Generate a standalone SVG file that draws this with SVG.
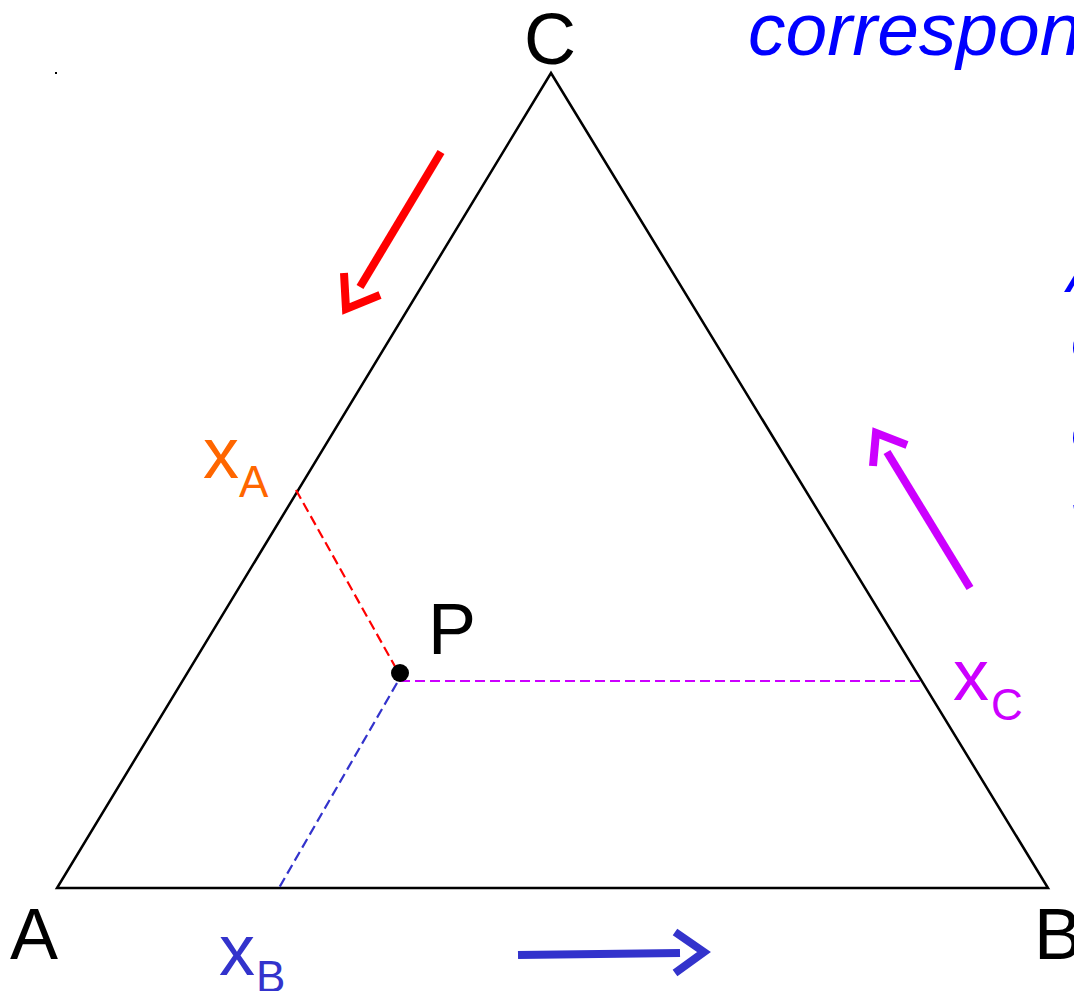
<svg xmlns="http://www.w3.org/2000/svg" width="1074" height="991" viewBox="0 0 1074 991">
<style>
.lbl{font-family:"Liberation Sans",Arial,sans-serif;font-size:72px;fill:#000}
.sub{font-family:"Liberation Sans",Arial,sans-serif;font-size:44px}
.it{font-family:"Liberation Sans",Arial,sans-serif;font-style:italic;fill:#0000FF}
.dash{stroke-width:2.2;stroke-dasharray:10,5;fill:none}
.arr{stroke-width:8;fill:none}
</style>
<rect width="1074" height="991" fill="#fff"/>
<g id="triangle">
<polygon points="57,888 1048,888 551,73" fill="none" stroke="#000" stroke-width="2.5"/>
</g>
<g id="connectors">
<line class="dash" x1="296" y1="490" x2="397" y2="670" stroke="#FF0000"/>
<line class="dash" x1="400" y1="681" x2="921" y2="681" stroke="#CC00FF"/>
<line class="dash" x1="397" y1="683" x2="279" y2="888" stroke="#3333CC"/>
<g id="arrow-red" stroke="#FF0000">
<line class="arr" x1="441" y1="152" x2="360" y2="287"/>
<polyline class="arr" points="344,273 346,309 380,295"/>
</g>
<g id="arrow-magenta" stroke="#CC00FF">
<line class="arr" x1="970" y1="588" x2="887" y2="452"/>
<polyline class="arr" points="873,466 876,433 907,445"/>
</g>
<g id="arrow-blue" stroke="#3333CC">
<line class="arr" x1="518" y1="955" x2="680" y2="953"/>
<polyline class="arr" points="675,932 704,952 675,973"/>
</g>
</g>
<g id="point-P">
<circle cx="400" cy="673" r="9" fill="#000"/>
<text class="lbl" x="428" y="654">P</text>
</g>
<g id="vertex-A"><text class="lbl" x="10" y="959">A</text></g>
<g id="vertex-B"><text class="lbl" x="1034" y="959">B</text></g>
<g id="vertex-C"><text class="lbl" x="524" y="64">C</text></g>
<g id="label-xA" fill="#FF6600"><text class="lbl" x="203" y="478" style="fill:#FF6600">x</text><text class="sub" x="239" y="497">A</text></g>
<g id="label-xC" fill="#CC00FF"><text class="lbl" x="953" y="700" style="fill:#CC00FF">x</text><text class="sub" x="991" y="720">C</text></g>
<g id="label-xB" fill="#3333CC"><text class="lbl" x="219" y="975" style="fill:#3333CC">x</text><text class="sub" x="256" y="992">B</text></g>
<rect x="55" y="72" width="2" height="2" fill="#000"/>
<g id="side-text">
<text class="it" x="748" y="55" font-size="75">corresponding</text>
<text class="it" x="1067" y="292" font-size="60">A</text>
<text class="it" x="1071" y="360" font-size="60">o</text>
<text class="it" x="1071" y="450" font-size="60">o</text>
<text class="it" x="1070" y="536" font-size="60">v</text>
</g>
</svg>
